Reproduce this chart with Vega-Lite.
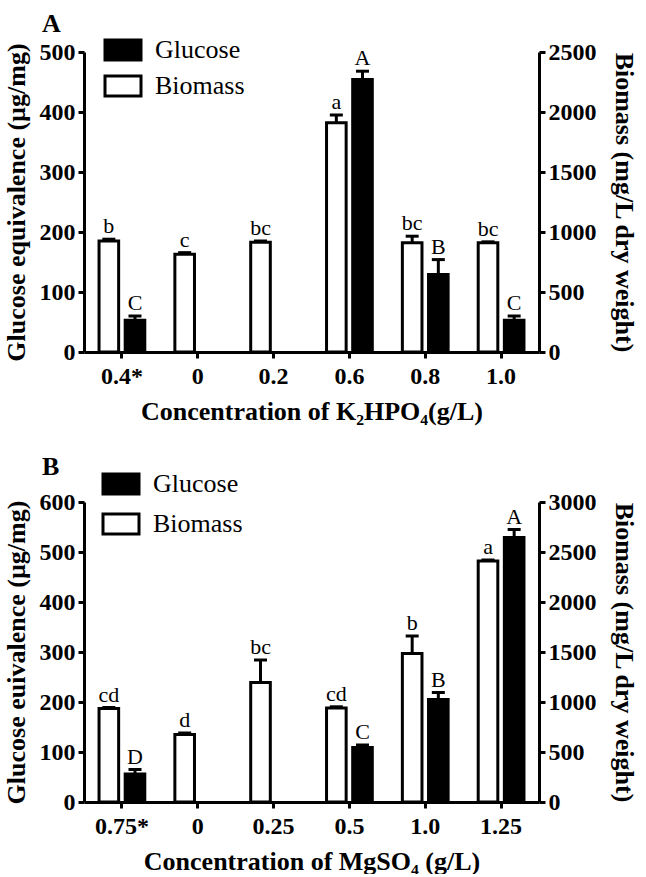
{
  "$schema": "https://vega.github.io/schema/vega-lite/v6.json",
  "padding": {"left": 2, "top": 11, "right": 0, "bottom": 0},
  "background": "white",
  "spacing": 30,
  "config": {
    "view": {"stroke": null},
    "font": "Liberation Serif",
    "axis": {
      "grid": false,
      "domainColor": "black",
      "domainWidth": 3,
      "tickColor": "black",
      "tickWidth": 3,
      "tickSize": 6,
      "labelFont": "Liberation Serif",
      "labelFontSize": 24,
      "labelFontWeight": "bold",
      "labelColor": "black",
      "titleFont": "Liberation Serif",
      "titleFontSize": 26,
      "titleFontWeight": "bold",
      "titleColor": "black"
    },
    "legend": {
      "orient": "none",
      "title": null,
      "symbolType": "M-1.8,-1H1.8V1H-1.8Z",
      "symbolSize": 400,
      "symbolStrokeColor": "black",
      "symbolStrokeWidth": 3,
      "symbolOpacity": 1,
      "labelFont": "Liberation Serif",
      "labelFontSize": 26,
      "labelColor": "black",
      "labelOffset": 19,
      "rowPadding": 4
    }
  },
  "resolve": {"scale": {"fill": "independent"}, "legend": {"fill": "independent"}},
  "vconcat": [
    {
      "width": 455,
      "height": 300,
      "title": {"text": "A", "anchor": "start", "frame": "group", "dx": -42, "fontSize": 26, "fontWeight": "bold", "font": "Liberation Serif", "color": "black", "offset": 0},
      "data": {"values": [
        {"conc": "0.4*", "series": "Biomass", "value": 925, "hi": 940, "letter": "b"},
        {"conc": "0.4*", "series": "Glucose", "value": 53, "hi": 60, "letter": "C"},
        {"conc": "0", "series": "Biomass", "value": 815, "hi": 828, "letter": "c"},
        {"conc": "0.2", "series": "Biomass", "value": 915, "hi": 925, "letter": "bc"},
        {"conc": "0.6", "series": "Biomass", "value": 1910, "hi": 1975, "letter": "a"},
        {"conc": "0.6", "series": "Glucose", "value": 454, "hi": 468, "letter": "A"},
        {"conc": "0.8", "series": "Biomass", "value": 910, "hi": 965, "letter": "bc"},
        {"conc": "0.8", "series": "Glucose", "value": 129, "hi": 154, "letter": "B"},
        {"conc": "1.0", "series": "Biomass", "value": 910, "hi": 918, "letter": "bc"},
        {"conc": "1.0", "series": "Glucose", "value": 53, "hi": 60, "letter": "C"}
      ]},
      "encoding": {
        "x": {"field": "conc", "type": "nominal", "sort": ["0.4*", "0", "0.2", "0.6", "0.8", "1.0"],
              "scale": {"paddingInner": 0, "paddingOuter": 0},
              "axis": {"title": "Concentration of K₂HPO₄(g/L)", "labelAngle": 0, "labelPadding": 6, "titlePadding": 10}},
        "xOffset": {"field": "series", "type": "nominal", "scale": {"domain": ["Biomass", "Glucose"], "paddingInner": 0.25, "paddingOuter": 0.575}}
      },
      "layer": [
        {
          "transform": [{"filter": "datum.series === 'Glucose'"}],
          "encoding": {
            "y": {"field": "value", "type": "quantitative", "scale": {"domain": [0, 500], "nice": false},
                  "axis": {"title": "Glucose equivalence (µg/mg)", "orient": "left", "values": [0, 100, 200, 300, 400, 500], "labelPadding": 3, "titlePadding": 10}}
          },
          "layer": [
            {"mark": {"type": "bar", "stroke": "black", "strokeWidth": 3},
             "encoding": {"fill": {"field": "series", "type": "nominal", "scale": {"domain": ["Glucose", "Biomass"], "range": ["black", "white"]},
                                   "legend": {"legendX": 26, "legendY": -15}}}},
            {"mark": {"type": "rule", "color": "black", "strokeWidth": 3}, "encoding": {"y2": {"field": "hi"}}},
            {"mark": {"type": "tick", "color": "black", "orient": "horizontal", "size": 13, "thickness": 3, "opacity": 1},
             "encoding": {"y": {"field": "hi", "type": "quantitative"}}},
            {"mark": {"type": "text", "font": "Liberation Serif", "fontSize": 22, "color": "black", "baseline": "alphabetic", "dy": -6},
             "encoding": {"y": {"field": "hi", "type": "quantitative"}, "text": {"field": "letter"}}}
          ]
        },
        {
          "transform": [{"filter": "datum.series === 'Biomass'"}],
          "encoding": {
            "y": {"field": "value", "type": "quantitative", "scale": {"domain": [0, 2500], "nice": false},
                  "axis": {"title": "Biomass (mg/L dry weight)", "orient": "right", "format": "d", "values": [0, 500, 1000, 1500, 2000, 2500], "labelPadding": 3, "titlePadding": 14, "titleFontSize": 26}}
          },
          "layer": [
            {"mark": {"type": "bar", "stroke": "black", "strokeWidth": 3},
             "encoding": {"fill": {"field": "series", "type": "nominal", "scale": {"domain": ["Glucose", "Biomass"], "range": ["black", "white"]},
                                   "legend": {"legendX": 26, "legendY": -15}}}},
            {"mark": {"type": "rule", "color": "black", "strokeWidth": 3}, "encoding": {"y2": {"field": "hi"}}},
            {"mark": {"type": "tick", "color": "black", "orient": "horizontal", "size": 13, "thickness": 3, "opacity": 1},
             "encoding": {"y": {"field": "hi", "type": "quantitative"}}},
            {"mark": {"type": "text", "font": "Liberation Serif", "fontSize": 22, "color": "black", "baseline": "alphabetic", "dy": -6},
             "encoding": {"y": {"field": "hi", "type": "quantitative"}, "text": {"field": "letter"}}}
          ]
        }
      ],
      "resolve": {"scale": {"y": "independent"}, "axis": {"y": "independent"}}
    },
    {
      "width": 455,
      "height": 300,
      "title": {"text": "B", "anchor": "start", "frame": "group", "dx": -42, "fontSize": 26, "fontWeight": "bold", "font": "Liberation Serif", "color": "black", "offset": -9},
      "data": {"values": [
        {"conc": "0.75*", "series": "Biomass", "value": 935, "hi": 945, "letter": "cd"},
        {"conc": "0.75*", "series": "Glucose", "value": 56, "hi": 65, "letter": "D"},
        {"conc": "0", "series": "Biomass", "value": 675, "hi": 690, "letter": "d"},
        {"conc": "0.25", "series": "Biomass", "value": 1195, "hi": 1420, "letter": "bc"},
        {"conc": "0.5", "series": "Biomass", "value": 940, "hi": 952, "letter": "cd"},
        {"conc": "0.5", "series": "Glucose", "value": 109, "hi": 114, "letter": "C"},
        {"conc": "1.0", "series": "Biomass", "value": 1485, "hi": 1660, "letter": "b"},
        {"conc": "1.0", "series": "Glucose", "value": 205, "hi": 219, "letter": "B"},
        {"conc": "1.25", "series": "Biomass", "value": 2410, "hi": 2420, "letter": "a"},
        {"conc": "1.25", "series": "Glucose", "value": 529, "hi": 545, "letter": "A"}
      ]},
      "encoding": {
        "x": {"field": "conc", "type": "nominal", "sort": ["0.75*", "0", "0.25", "0.5", "1.0", "1.25"],
              "scale": {"paddingInner": 0, "paddingOuter": 0},
              "axis": {"title": "Concentration of MgSO₄ (g/L)", "labelAngle": 0, "labelPadding": 6, "titlePadding": 10}},
        "xOffset": {"field": "series", "type": "nominal", "scale": {"domain": ["Biomass", "Glucose"], "paddingInner": 0.25, "paddingOuter": 0.575}}
      },
      "layer": [
        {
          "transform": [{"filter": "datum.series === 'Glucose'"}],
          "encoding": {
            "y": {"field": "value", "type": "quantitative", "scale": {"domain": [0, 600], "nice": false},
                  "axis": {"title": "Glucose euivalence (µg/mg)", "orient": "left", "values": [0, 100, 200, 300, 400, 500, 600], "labelPadding": 3, "titlePadding": 10}}
          },
          "layer": [
            {"mark": {"type": "bar", "stroke": "black", "strokeWidth": 3},
             "encoding": {"fill": {"field": "series", "type": "nominal", "scale": {"domain": ["Glucose", "Biomass"], "range": ["black", "white"]},
                                   "legend": {"legendX": 24, "legendY": -31, "rowPadding": 8}}}},
            {"mark": {"type": "rule", "color": "black", "strokeWidth": 3}, "encoding": {"y2": {"field": "hi"}}},
            {"mark": {"type": "tick", "color": "black", "orient": "horizontal", "size": 13, "thickness": 3, "opacity": 1},
             "encoding": {"y": {"field": "hi", "type": "quantitative"}}},
            {"mark": {"type": "text", "font": "Liberation Serif", "fontSize": 22, "color": "black", "baseline": "alphabetic", "dy": -6},
             "encoding": {"y": {"field": "hi", "type": "quantitative"}, "text": {"field": "letter"}}}
          ]
        },
        {
          "transform": [{"filter": "datum.series === 'Biomass'"}],
          "encoding": {
            "y": {"field": "value", "type": "quantitative", "scale": {"domain": [0, 3000], "nice": false},
                  "axis": {"title": "Biomass (mg/L dry weight)", "orient": "right", "format": "d", "values": [0, 500, 1000, 1500, 2000, 2500, 3000], "labelPadding": 3, "titlePadding": 14, "titleFontSize": 26}}
          },
          "layer": [
            {"mark": {"type": "bar", "stroke": "black", "strokeWidth": 3},
             "encoding": {"fill": {"field": "series", "type": "nominal", "scale": {"domain": ["Glucose", "Biomass"], "range": ["black", "white"]},
                                   "legend": {"legendX": 24, "legendY": -31, "rowPadding": 8}}}},
            {"mark": {"type": "rule", "color": "black", "strokeWidth": 3}, "encoding": {"y2": {"field": "hi"}}},
            {"mark": {"type": "tick", "color": "black", "orient": "horizontal", "size": 13, "thickness": 3, "opacity": 1},
             "encoding": {"y": {"field": "hi", "type": "quantitative"}}},
            {"mark": {"type": "text", "font": "Liberation Serif", "fontSize": 22, "color": "black", "baseline": "alphabetic", "dy": -6},
             "encoding": {"y": {"field": "hi", "type": "quantitative"}, "text": {"field": "letter"}}}
          ]
        }
      ],
      "resolve": {"scale": {"y": "independent"}, "axis": {"y": "independent"}}
    }
  ]
}
